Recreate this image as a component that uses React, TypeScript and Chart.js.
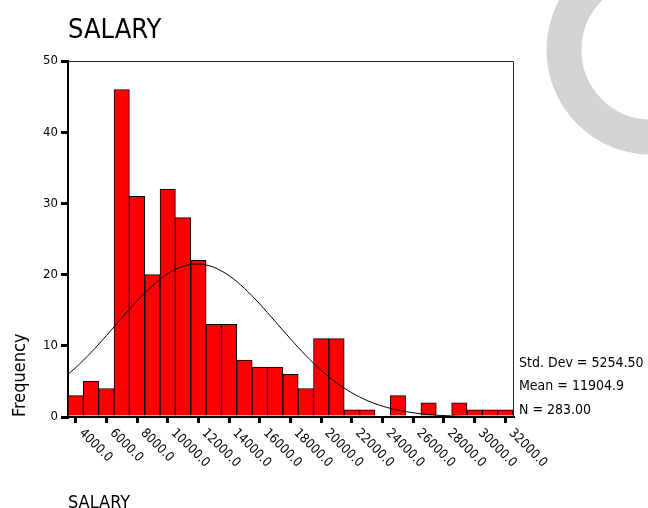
import React, { useEffect, useRef } from "react";
import { Chart, registerables } from "chart.js";

Chart.register(...registerables);

const TITLE = "SALARY";
const X_AXIS_TITLE = "SALARY";
const Y_AXIS_TITLE = "Frequency";

// histogram bins (bin centres, width 1000)
const binCenters = [
  4000, 5000, 6000, 7000, 8000, 9000, 10000, 11000, 12000, 13000, 14000, 15000,
  16000, 17000, 18000, 19000, 20000, 21000, 22000, 23000, 24000, 25000, 26000,
  27000, 28000, 29000, 30000, 31000, 32000,
];
const frequencies = [
  3, 5, 4, 46, 31, 20, 32, 28, 22, 13, 13, 8, 7, 7, 6, 4, 11, 11, 1, 1, 0, 3, 0,
  2, 0, 2, 1, 1, 1,
];

// fitted normal curve
const curveX = [
  3500, 4000, 4500, 5000, 5500, 6000, 6500, 7000, 7500, 8000, 8500, 9000, 9500,
  10000, 10500, 11000, 11500, 12000, 12500, 13000, 13500, 14000, 14500, 15000,
  15500, 16000, 16500, 17000, 17500, 18000, 18500, 19000, 19500, 20000, 20500,
  21000, 21500, 22000, 22500, 23000, 23500, 24000, 24500, 25000, 25500, 26000,
  26500, 27000, 27500, 28000, 28500, 29000, 29500, 30000, 30500, 31000, 31500,
  32000, 32500,
];
const curveY = [
  5.98, 6.93, 7.96, 9.06, 10.22, 11.43, 12.66, 13.9, 15.12, 16.3, 17.42, 18.44,
  19.35, 20.12, 20.74, 21.17, 21.43, 21.49, 21.35, 21.03, 20.52, 19.85, 19.02,
  18.07, 17.01, 15.86, 14.66, 13.43, 12.19, 10.97, 9.78, 8.64, 7.56, 6.56, 5.64,
  4.8, 4.06, 3.39, 2.81, 2.31, 1.88, 1.52, 1.22, 0.96, 0.76, 0.59, 0.45, 0.35,
  0.26, 0.2, 0.15, 0.11, 0.08, 0.06, 0.04, 0.03, 0.02, 0.01, 0.01,
];

const xMin = 3500;
const xMax = 32500;
const xTickValues = [
  4000, 6000, 8000, 10000, 12000, 14000, 16000, 18000, 20000, 22000, 24000,
  26000, 28000, 30000, 32000,
];
const xTickLabels = [
  "4000.0", "6000.0", "8000.0", "10000.0", "12000.0", "14000.0", "16000.0",
  "18000.0", "20000.0", "22000.0", "24000.0", "26000.0", "28000.0", "30000.0",
  "32000.0",
];
const yMin = 0;
const yMax = 50;
const yTickValues = [0, 10, 20, 30, 40, 50];
const statLines = ["Std. Dev = 5254.50", "Mean = 11904.9", "N = 283.00"];

const FONT = '"DejaVu Sans Condensed", "DejaVu Sans", sans-serif';

const decorPlugin = {
  id: "decor",
  beforeDraw(chart: any) {
    const ctx = chart.ctx;
    ctx.save();
    ctx.fillStyle = "#ffffff";
    ctx.fillRect(0, 0, chart.width, chart.height);
    // grey watermark arc
    ctx.strokeStyle = "#d4d4d4";
    ctx.lineWidth = 35;
    ctx.beginPath();
    ctx.arc(651, 50, 87, 0, Math.PI * 2);
    ctx.stroke();
    ctx.restore();
  },
  afterDatasetsDraw(chart: any) {
    const ctx = chart.ctx;
    const a = chart.chartArea;
    ctx.save();
    ctx.strokeStyle = "#222";
    ctx.lineWidth = 1;
    ctx.beginPath();
    ctx.moveTo(a.left, a.top + 0.5);
    ctx.lineTo(a.right + 0.5, a.top + 0.5);
    ctx.lineTo(a.right + 0.5, a.bottom);
    ctx.stroke();
    ctx.restore();
  },
  afterDraw(chart: any) {
    const ctx = chart.ctx;
    const a = chart.chartArea;
    const xs = chart.scales.x;
    ctx.save();
    ctx.fillStyle = "#000";
    // title
    ctx.font = `27px ${FONT}`;
    ctx.textAlign = "left";
    ctx.textBaseline = "alphabetic";
    ctx.fillText(TITLE, a.left, 38);
    // rotated x tick labels
    ctx.font = `13px ${FONT}`;
    xTickValues.forEach((v, i) => {
      const px = xs.getPixelForValue(v);
      ctx.save();
      ctx.translate(px + 5.5, a.bottom + 14);
      ctx.rotate(Math.PI / 4);
      ctx.textAlign = "left";
      ctx.textBaseline = "middle";
      ctx.fillText(xTickLabels[i], 0, 0);
      ctx.restore();
    });
    // x axis title
    ctx.font = `18px ${FONT}`;
    ctx.textAlign = "left";
    ctx.textBaseline = "alphabetic";
    ctx.fillText(X_AXIS_TITLE, a.left, 508);
    // y axis title
    ctx.save();
    ctx.translate(25, a.bottom);
    ctx.rotate(-Math.PI / 2);
    ctx.fillText(Y_AXIS_TITLE, 0, 0);
    ctx.restore();
    // stats
    ctx.font = `14px ${FONT}`;
    statLines.forEach((s, i) => {
      ctx.fillText(s, a.right + 6, 367 + i * 23.3);
    });
    ctx.restore();
  },
};

export default function App() {
  const ref = useRef<HTMLCanvasElement | null>(null);
  useEffect(() => {
    if (!ref.current) return;
    const chart = new Chart(ref.current, {
      type: "bar",
      data: {
        datasets: [
          {
            type: "line",
            data: curveX.map((x, i) => ({ x, y: curveY[i] })),
            borderColor: "#000",
            borderWidth: 1,
            pointRadius: 0,
            tension: 0.3,
            fill: false,
            order: 0,
          } as any,
          {
            type: "bar",
            data: binCenters.map((x, i) => ({ x, y: frequencies[i] })),
            backgroundColor: "#ff0000",
            borderColor: "#000",
            borderWidth: 1,
            barPercentage: 1,
            categoryPercentage: 1,
            order: 1,
          } as any,
        ],
      },
      options: {
        responsive: false,
        animation: false,
        devicePixelRatio: 1,
        layout: { padding: { left: 0, top: 61, right: 135, bottom: 0 } },
        plugins: {
          legend: { display: false },
          tooltip: { enabled: false },
          title: { display: false },
        },
        scales: {
          x: {
            type: "linear",
            min: xMin,
            max: xMax,
            offset: false,
            afterBuildTicks: (s: any) => {
              s.ticks = xTickValues.map((v) => ({ value: v }));
            },
            afterFit: (s: any) => {
              s.height = 91;
            },
            ticks: { display: false },
            grid: {
              display: true,
              offset: false,
              drawOnChartArea: false,
              drawTicks: true,
              tickLength: 6,
              color: "#000",
              lineWidth: 3,
            },
            border: { display: true, color: "#000", width: 2 },
          },
          y: {
            type: "linear",
            min: yMin,
            max: yMax,
            afterBuildTicks: (s: any) => {
              s.ticks = yTickValues.map((v) => ({ value: v }));
            },
            afterFit: (s: any) => {
              s.width = 68;
            },
            ticks: {
              color: "#000",
              padding: 3,
              font: { size: 13, family: FONT },
            },
            grid: {
              display: true,
              offset: false,
              drawOnChartArea: false,
              drawTicks: true,
              tickLength: 7,
              color: "#000",
              lineWidth: 3,
            },
            border: { display: true, color: "#000", width: 2 },
          },
        },
      } as any,
      plugins: [decorPlugin],
    });
    return () => chart.destroy();
  }, []);
  return (
    <div style={{ position: "fixed", left: 0, top: 0, width: 648, height: 508, background: "#fff" }}>
      <canvas ref={ref} width={648} height={508} style={{ display: "block" }} />
    </div>
  );
}
